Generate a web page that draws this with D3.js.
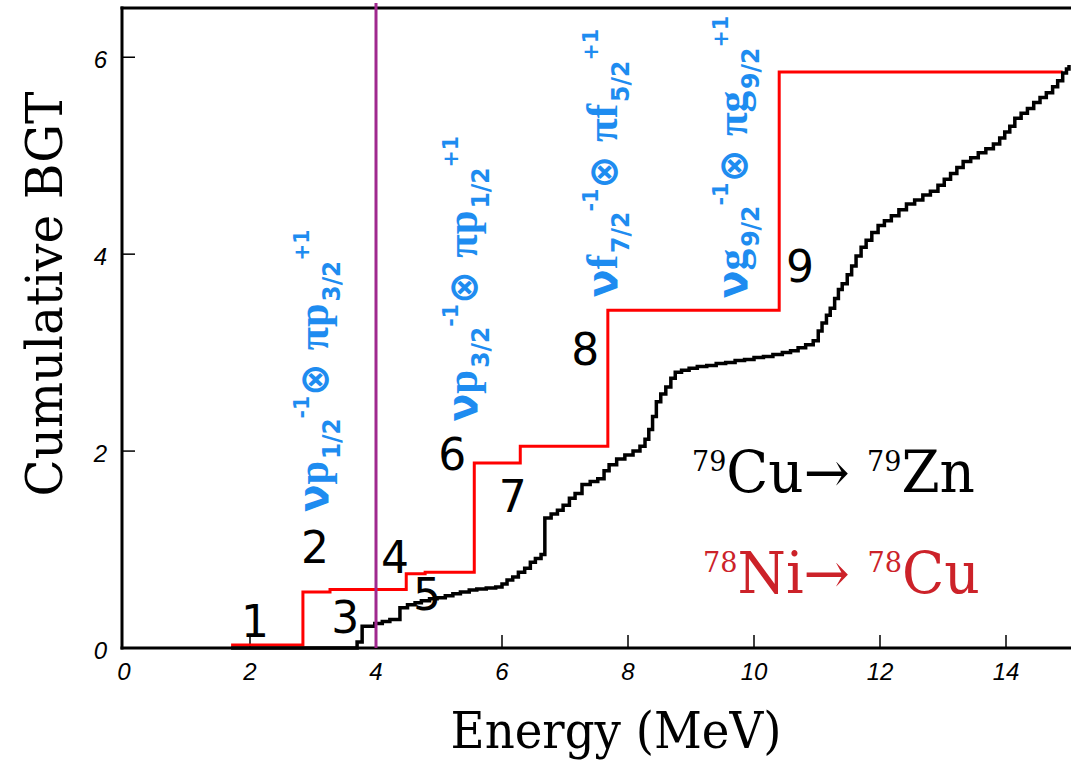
<!DOCTYPE html>
<html>
<head>
<meta charset="utf-8">
<script src="https://cdn.jsdelivr.net/npm/d3@7"></script>
<style>
  html, body { margin: 0; padding: 0; background: #fff; }
  svg { display: block; }
</style>
</head>
<body>
<svg id="chart" width="1071" height="762"></svg>
<script>
// Axis ticks
const energyTicks = [0, 2, 4, 6, 8, 10, 12, 14];
const bgtTicks = [0, 2, 4, 6];

// 79Cu -> 79Zn cumulative B(GT): step start energies (MeV) and running sums
const cuEnergy = [1.70, 3.70, 3.78, 3.98, 4.10, 4.22, 4.38, 4.50, 4.62, 4.72, 4.85, 4.97, 5.10, 5.22, 5.34, 5.48,
  5.60, 5.75, 5.90, 6.00, 6.08, 6.17, 6.26, 6.36, 6.45, 6.53, 6.62, 6.68, 6.78, 6.88, 6.97, 7.07,
  7.16, 7.27, 7.40, 7.52, 7.62, 7.70, 7.82, 7.95, 8.08, 8.19, 8.27, 8.33, 8.39, 8.45, 8.52, 8.60,
  8.68, 8.75, 8.85, 8.97, 9.10, 9.25, 9.40, 9.55, 9.70, 9.85, 10.00, 10.15, 10.30, 10.45, 10.58, 10.70,
  10.82, 10.94, 11.02, 11.08, 11.15, 11.21, 11.28, 11.34, 11.40, 11.48, 11.55, 11.62, 11.70, 11.78, 11.87, 11.97,
  12.07, 12.18, 12.30, 12.42, 12.55, 12.68, 12.80, 12.92, 13.02, 13.12, 13.22, 13.32, 13.44, 13.56, 13.68, 13.80,
  13.90, 13.98, 14.06, 14.14, 14.24, 14.34, 14.44, 14.54, 14.64, 14.74, 14.82, 14.90, 14.96, 15.00];
const cuBGT = [0.00, 0.06, 0.22, 0.25, 0.27, 0.29, 0.41, 0.44, 0.46, 0.48, 0.50, 0.51, 0.53, 0.55, 0.57, 0.59,
  0.60, 0.61, 0.62, 0.65, 0.69, 0.72, 0.77, 0.81, 0.87, 0.91, 0.95, 1.32, 1.36, 1.40, 1.45, 1.52,
  1.57, 1.66, 1.69, 1.72, 1.80, 1.86, 1.92, 1.96, 2.00, 2.05, 2.12, 2.22, 2.35, 2.50, 2.58, 2.65,
  2.74, 2.80, 2.82, 2.84, 2.86, 2.87, 2.89, 2.90, 2.92, 2.93, 2.95, 2.96, 2.98, 3.00, 3.02, 3.05,
  3.08, 3.12, 3.22, 3.30, 3.38, 3.45, 3.55, 3.64, 3.70, 3.79, 3.88, 3.98, 4.07, 4.14, 4.22, 4.29,
  4.34, 4.39, 4.45, 4.51, 4.55, 4.60, 4.64, 4.70, 4.76, 4.82, 4.88, 4.94, 4.98, 5.03, 5.07, 5.12,
  5.18, 5.24, 5.30, 5.38, 5.43, 5.48, 5.54, 5.59, 5.64, 5.70, 5.76, 5.84, 5.88, 5.92];

// 78Ni -> 78Cu cumulative B(GT)
const niEnergy = [1.70, 2.84, 3.27, 4.48, 4.78, 5.56, 6.29, 7.68, 10.40, 14.90];
const niBGT = [0.03, 0.57, 0.595, 0.755, 0.77, 1.88, 2.05, 3.43, 5.85, 5.85];

// Energy of the vertical marker line
const markerEnergy = 4.0;

// State numbers: text, energy and B(GT) of the label baseline
const stateNames = ["1", "2", "3", "4", "5", "6", "7", "8", "9"];
const stateEnergy = [2.08, 3.03, 3.51, 4.30, 4.81, 5.21, 6.17, 7.32, 10.73];
const stateBGT = [0.11, 0.86, 0.15, 0.76, 0.39, 1.81, 1.38, 2.87, 3.72];

// Particle-hole configurations (neutron hole x proton particle)
const nuOrbit = ["p", "p", "f", "g"];
const nuJ = ["1/2", "3/2", "7/2", "9/2"];
const piOrbit = ["p", "p", "f", "g"];
const piJ = ["3/2", "1/2", "5/2", "9/2"];
const configEnergy = [3.24, 5.60, 7.83, 9.89];
const configBGTStart = [1.38, 2.30, 3.56, 3.55];
const configBGTEnd = [4.21, 5.16, 6.25, 6.38];

const svg = d3.select("#chart");

const x = d3.scaleLinear().domain([0, 15]).range([124, 1069]);
const y = d3.scaleLinear().domain([0, 6.5]).range([648, 8]);

const blue = "#1e8cf0";

// Stretch a text element (drawn at its own origin) to a given advance length
function fitLength(sel, target) {
  const w = sel.node().getComputedTextLength();
  sel.attr("transform", `scale(${target / w},1)`);
}

// Frame: left, bottom and top lines
const frame = svg.append("g").attr("stroke", "#000").attr("stroke-width", 3).attr("fill", "none");
frame.append("line").attr("x1", x(0) - 2).attr("x2", x(0) - 2).attr("y1", y(6.5) - 1.5).attr("y2", y(0) + 1.5);
frame.append("line").attr("x1", x(0) - 3.5).attr("x2", 1071).attr("y1", y(0)).attr("y2", y(0));
frame.append("line").attr("x1", x(0) - 3.5).attr("x2", 1071).attr("y1", y(6.5)).attr("y2", y(6.5));

// Inward ticks
const tickG = svg.append("g").attr("stroke", "#000").attr("stroke-width", 1.5);
tickG.selectAll(".xt").data(energyTicks.filter(d => d > 0)).join("line")
  .attr("x1", d => x(d)).attr("x2", d => x(d)).attr("y1", y(0)).attr("y2", y(0) - 13);
tickG.selectAll(".yt").data(bgtTicks.filter(d => d > 0)).join("line")
  .attr("x1", x(0) - 2).attr("x2", x(0) + 11).attr("y1", d => y(d)).attr("y2", d => y(d));

// Tick labels
const tickFont = "'Liberation Sans', Arial, sans-serif";
svg.append("g").selectAll("text").data(energyTicks).join("text")
  .attr("x", d => x(d)).attr("y", 680)
  .attr("text-anchor", "middle").attr("font-family", tickFont)
  .attr("font-style", "italic").attr("font-size", 24).attr("fill", "#000")
  .text(d => d);
svg.append("g").selectAll("text").data(bgtTicks).join("text")
  .attr("x", 107).attr("y", d => y(d) + 11)
  .attr("text-anchor", "end").attr("font-family", tickFont)
  .attr("font-style", "italic").attr("font-size", 24).attr("fill", "#000")
  .text(d => d);

// Axis titles
const serif = "'DejaVu Serif', serif";
const xTitle = svg.append("g").attr("transform", "translate(616,748)")
  .append("text").attr("text-anchor", "middle").attr("font-family", serif)
  .attr("font-size", 50).attr("fill", "#000").text("Energy (MeV)");
fitLength(xTitle, 331);

const yTitle = svg.append("g").attr("transform", "translate(62,294) rotate(-90)")
  .append("text").attr("text-anchor", "middle").attr("font-family", serif)
  .attr("font-size", 50).attr("fill", "#000").text("Cumulative BGT");
fitLength(yTitle, 405);

// Step curves
const stepLine = d3.line().x(d => x(d[0])).y(d => y(d[1])).curve(d3.curveStepAfter);

svg.append("path")
  .datum(d3.zip(niEnergy, niBGT))
  .attr("d", stepLine).attr("fill", "none")
  .attr("stroke", "#ff0000").attr("stroke-width", 3);

svg.append("path")
  .datum(d3.zip(cuEnergy, cuBGT))
  .attr("d", stepLine).attr("fill", "none")
  .attr("stroke", "#000").attr("stroke-width", 3.5);

// Vertical marker
svg.append("line")
  .attr("x1", x(markerEnergy)).attr("x2", x(markerEnergy))
  .attr("y1", 3).attr("y2", y(0))
  .attr("stroke", "#a0288e").attr("stroke-width", 3);

// State numbers
svg.append("g").selectAll("text").data(stateNames).join("text")
  .attr("x", (d, i) => x(stateEnergy[i])).attr("y", (d, i) => y(stateBGT[i]))
  .attr("text-anchor", "middle").attr("font-family", "'DejaVu Sans', sans-serif")
  .attr("font-size", 44).attr("fill", "#000")
  .text(d => d);

// Configuration labels, written bottom to top
const sans = "'DejaVu Sans', sans-serif";
const orbitFont = "'Liberation Serif', 'Times New Roman', serif";
nuOrbit.forEach((orb, i) => {
  const g = svg.append("g")
    .attr("transform", `translate(${x(configEnergy[i])},${y(configBGTStart[i])}) rotate(-90)`);
  const t = g.append("text").attr("fill", blue).attr("font-weight", "bold");
  t.append("tspan").attr("font-family", sans).attr("font-size", 42).text("\u03bd");
  t.append("tspan").attr("font-family", orbitFont).attr("font-size", 44).text(orb);
  t.append("tspan").attr("font-family", sans).attr("font-size", 24).attr("dx", 2).attr("dy", 12).text(nuJ[i]);
  t.append("tspan").attr("font-family", sans).attr("font-size", 21).attr("dy", -31).text("-1");
  t.append("tspan").attr("font-family", sans).attr("font-size", 40).attr("dy", 19).text("\u2297 ");
  t.append("tspan").attr("font-family", orbitFont).attr("font-size", 44).text("\u03c0" + piOrbit[i]);
  t.append("tspan").attr("font-family", sans).attr("font-size", 24).attr("dx", 2).attr("dy", 12).text(piJ[i]);
  t.append("tspan").attr("font-family", sans).attr("font-size", 21).attr("dy", -31).text("+1");
  fitLength(t, y(configBGTStart[i]) - y(configBGTEnd[i]));
});

// Reaction legend
function reaction(px, py, len, color, a1, el1, a2, el2) {
  const t = svg.append("g").attr("transform", `translate(${px},${py})`)
    .append("text").attr("font-family", serif).attr("fill", color).attr("font-size", 57);
  t.append("tspan").attr("font-size", 28).attr("dy", -21).text(a1);
  t.append("tspan").attr("dy", 21).text(el1 + "\u2192 ");
  t.append("tspan").attr("font-size", 28).attr("dy", -21).text(a2);
  t.append("tspan").attr("dy", 21).text(el2);
  fitLength(t, len);
}
reaction(692, 492, 283, "#000", "79", "Cu", "79", "Zn");
reaction(703, 593, 277, "#cc2229", "78", "Ni", "78", "Cu");
</script>
</body>
</html>
